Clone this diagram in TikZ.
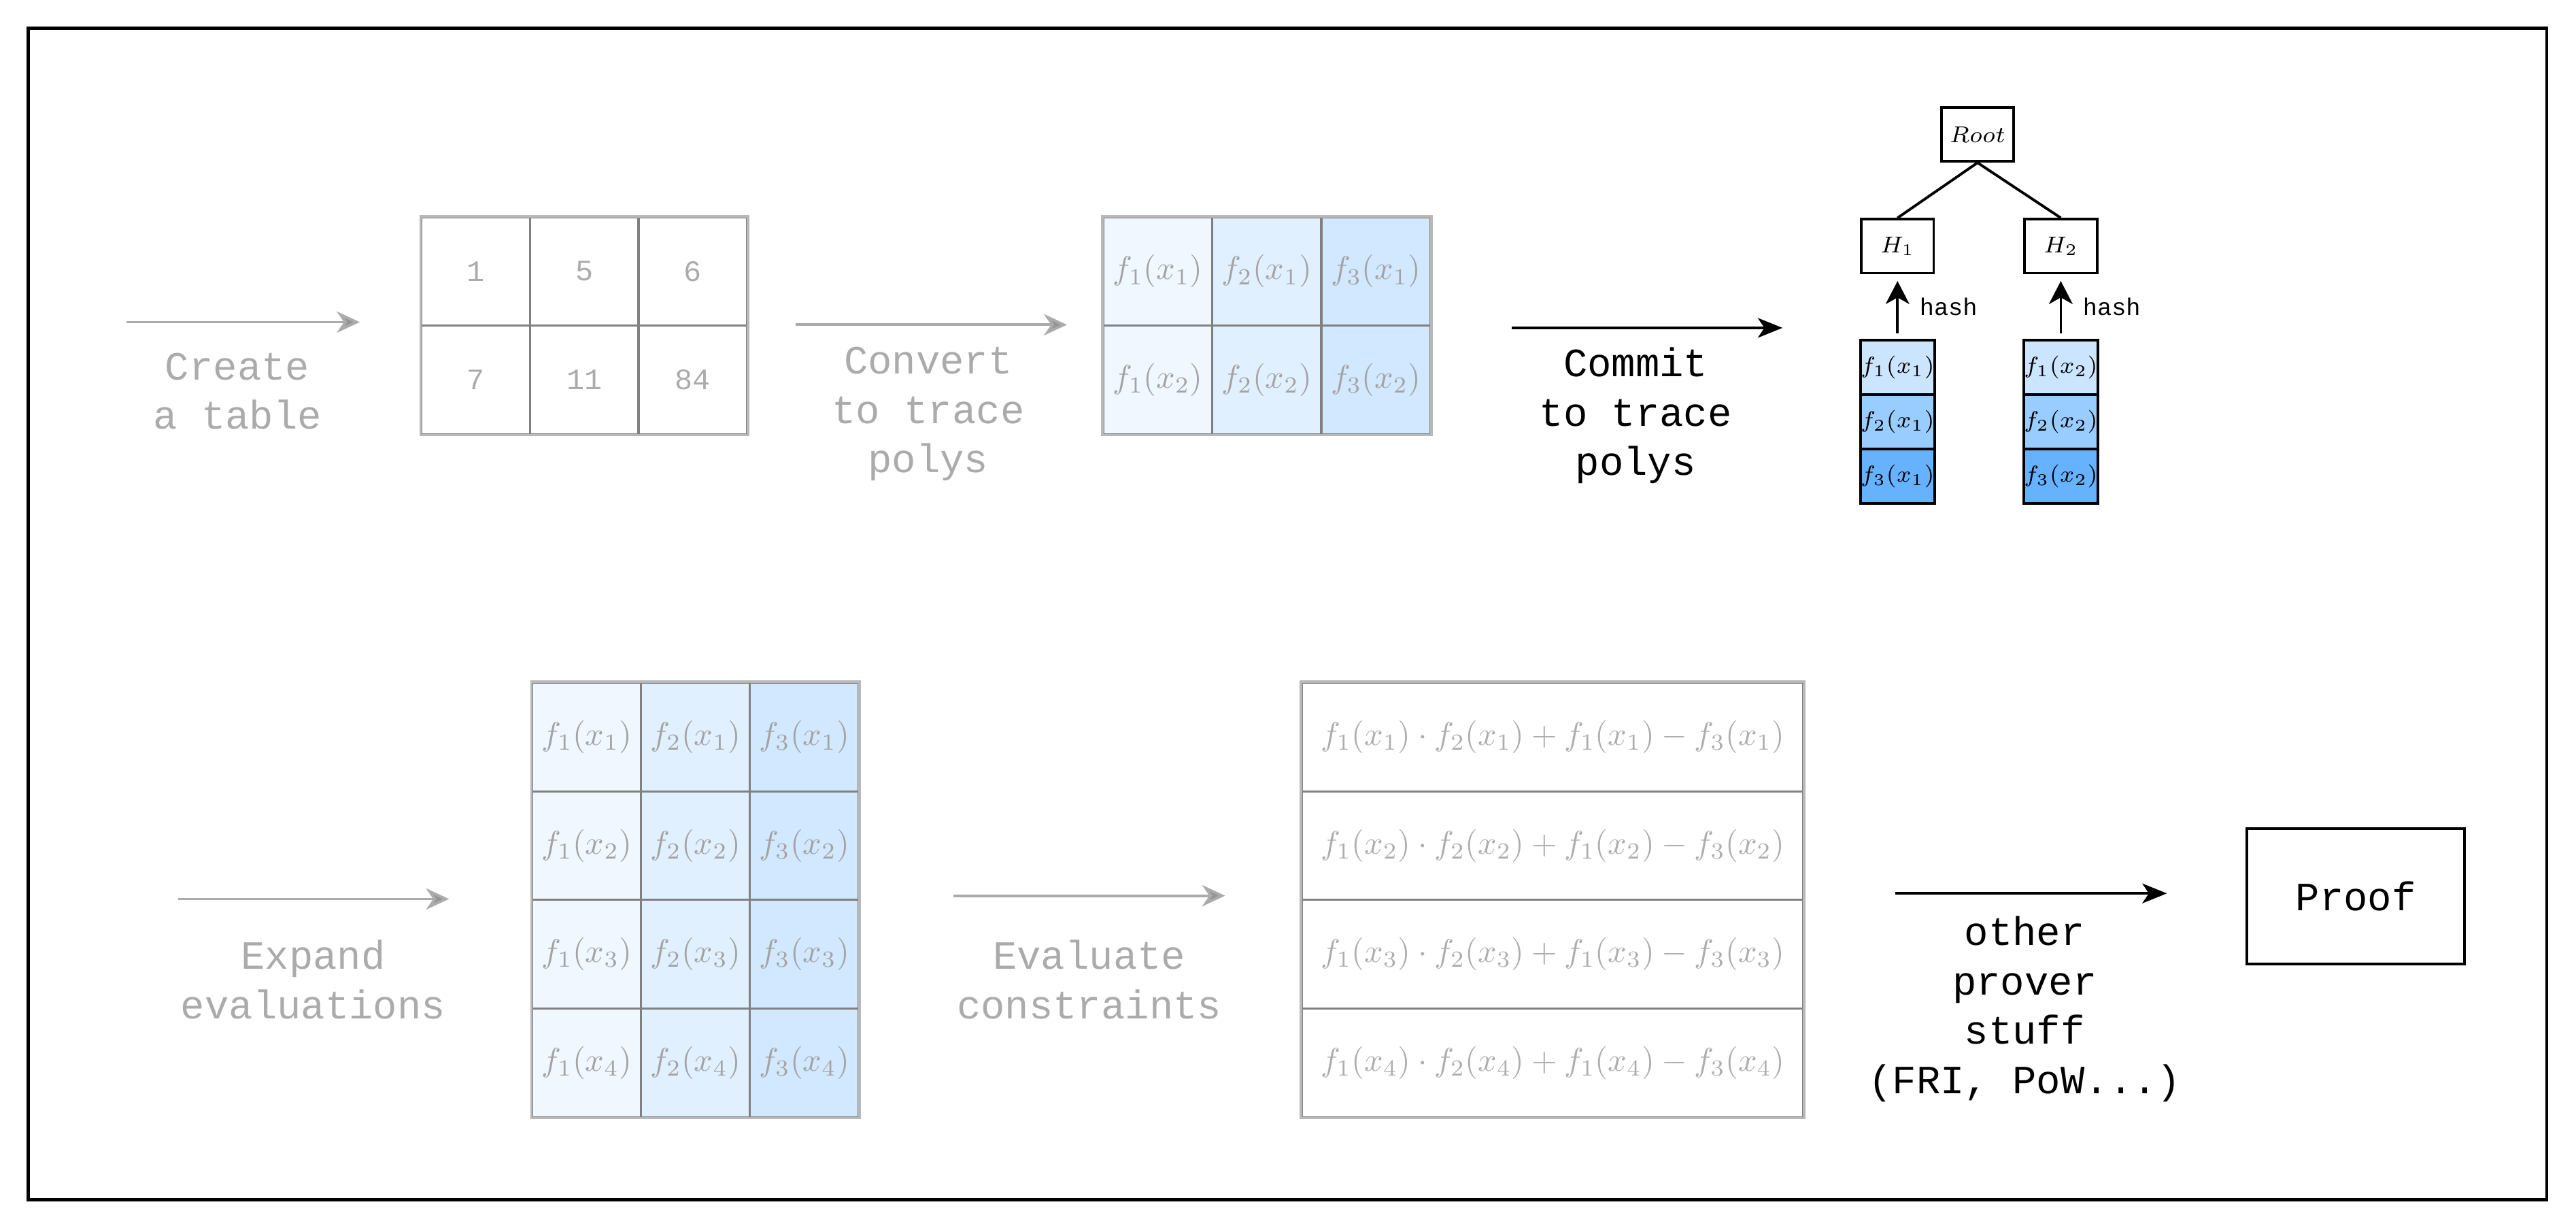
\documentclass[tikz,border=0pt]{standalone}
\usepackage{fontspec}
\setmonofont{Liberation Mono}
\usetikzlibrary{arrows.meta}

\definecolor{polyA}{HTML}{F0F7FF}
\definecolor{polyB}{HTML}{E0F0FF}
\definecolor{polyC}{HTML}{D1E8FF}
\definecolor{leafA}{HTML}{CCE5FF}
\definecolor{leafB}{HTML}{99CCFF}
\definecolor{leafC}{HTML}{66B2FF}
\definecolor{faded}{HTML}{ABABAB}

\tikzset{
  cell/.style={draw=black!50, line width=0.6pt, minimum width=33.1pt, minimum height=33pt, inner sep=0pt, anchor=north west, text=black!36},
  numcell/.style={cell, text=faded, font=\ttfamily\fontsize{9}{11}\selectfont},
  tblframe/.style={draw=black!28, line width=0.8pt},
  caption/.style={align=center, inner sep=0pt, font=\ttfamily\fontsize{12.2}{15}\selectfont},
  fadedarrow/.style={draw=black!33, line width=0.8pt, -{Stealth[length=7pt,width=6.5pt,inset=2.2pt,fill=black!42]}},
  darkarrow/.style={line width=0.8pt, -{Stealth[length=7.5pt,width=6pt,inset=2pt]}},
  hbox/.style={draw, line width=0.8pt, minimum width=22pt, minimum height=16.4pt, inner sep=0pt, font=\fontsize{7}{8}\selectfont},
  leaf/.style={hbox, anchor=north, minimum height=16.55pt, font=\fontsize{7.5}{9}\selectfont},
}

\begin{document}
\begin{tikzpicture}[x=0.5pt, y=-0.5pt]
\useasboundingbox (0,0) rectangle (1568,748);
\draw[line width=0.9pt] (17.2,17.2) rectangle (1550.3,730);

% table of values
\foreach \c/\v in {1/1,2/5,3/6}
  \node[numcell] (val-1-\c) at ({256+66*(\c-1)},131.5) {\v};
\foreach \c/\v in {1/7,2/11,3/84}
  \node[numcell] (val-2-\c) at ({256+66*(\c-1)},197.5) {\v};
\draw[tblframe] (val-1-1.north west) rectangle (val-2-3.south east);

% trace polys
\foreach \r in {1,2}
  \foreach \c/\cc in {1/polyA,2/polyB,3/polyC}
    \node[cell, fill=\cc] (poly-\r-\c) at ({671+66.4*(\c-1)},{131.5+66*(\r-1)}) {$f_{\c}(x_{\r})$};
\draw[tblframe] (poly-1-1.north west) rectangle (poly-2-3.south east);

% expanded evaluations
\foreach \r in {1,...,4}
  \foreach \c/\cc in {1/polyA,2/polyB,3/polyC}
    \node[cell, fill=\cc] (ext-\r-\c) at ({323.5+66.2*(\c-1)},{414.8+66.1*(\r-1)}) {$f_{\c}(x_{\r})$};
\draw[tblframe] (ext-1-1.north west) rectangle (ext-4-3.south east);

% constraints
\foreach \r in {1,...,4}
  \node[cell, minimum width=152.5pt, text=black!32] (cons-\r) at (792,{414.8+66.1*(\r-1)}) {$f_1(x_{\r})\cdot f_2(x_{\r})+f_1(x_{\r})-f_3(x_{\r})$};
\draw[tblframe] (cons-1.north west) rectangle (cons-4.south east);

% merkle tree
\node[hbox] (root) at (1203.7,81.8) {$Root$};
\node[hbox] (h1) at (1155,149.8) {$H_1$};
\node[hbox] (h2) at (1254.4,149.8) {$H_2$};
\foreach \c in {1,2}
  \foreach \r/\cc in {1/leafA,2/leafB,3/leafC}
    \node[leaf, fill=\cc] (leaf-\c-\r) at ({1155+99.4*(\c-1)},{206.2+33.1*(\r-1)}) {$f_{\r}(x_{\c})$};
\draw[line width=0.8pt] (h1.north) -- (root.south) -- (h2.north);
\foreach \c in {1,2}
  \draw[line width=0.8pt, -{Stealth[length=7pt,width=7.2pt,inset=2pt]}, shorten <=1.6pt, shorten >=2pt]
    (leaf-\c-1.north) -- (h\c.south) node[midway, right=3pt, font=\ttfamily\fontsize{7.3}{8}\selectfont] {hash};

% steps
\coordinate (create-a) at (77,196);
\coordinate (create-b) at (219,196);
\draw[fadedarrow] (create-a) -- (create-b);
\node[caption, text=faded] (create-lbl) at (144.5,238) {Create\\a table};

\coordinate (convert-a) at (484.5,197.6);
\coordinate (convert-b) at (649.4,197.6);
\draw[fadedarrow] (convert-a) -- (convert-b);
\node[caption, text=faded] (convert-lbl) at (565,252) {Convert\\to trace\\polys};

\coordinate (commit-a) at (920,199.5);
\coordinate (commit-b) at (1085,199.5);
\draw[darkarrow] (commit-a) -- (commit-b);
\node[caption] (commit-lbl) at (995.6,253) {Commit\\to trace\\polys};

\coordinate (expand-a) at (108.3,547);
\coordinate (expand-b) at (273.3,547);
\draw[fadedarrow] (expand-a) -- (expand-b);
\node[caption, text=faded] (expand-lbl) at (190.6,596) {Expand\\evaluations};

\coordinate (eval-a) at (580.2,545);
\coordinate (eval-b) at (745.7,545);
\draw[fadedarrow] (eval-a) -- (eval-b);
\node[caption, text=faded] (eval-lbl) at (663,596) {Evaluate\\constraints};

\coordinate (other-a) at (1153.6,543.6);
\coordinate (other-b) at (1319,543.6);
\draw[darkarrow] (other-a) -- (other-b);
\node[caption] (other-lbl) at (1232.4,614) {other\\prover\\stuff\\(FRI, PoW...)};

\node[draw, line width=0.8pt, minimum width=66.2pt, minimum height=41.3pt, caption] (proof) at (1434,545.3) {Proof};

\end{tikzpicture}
\end{document}
